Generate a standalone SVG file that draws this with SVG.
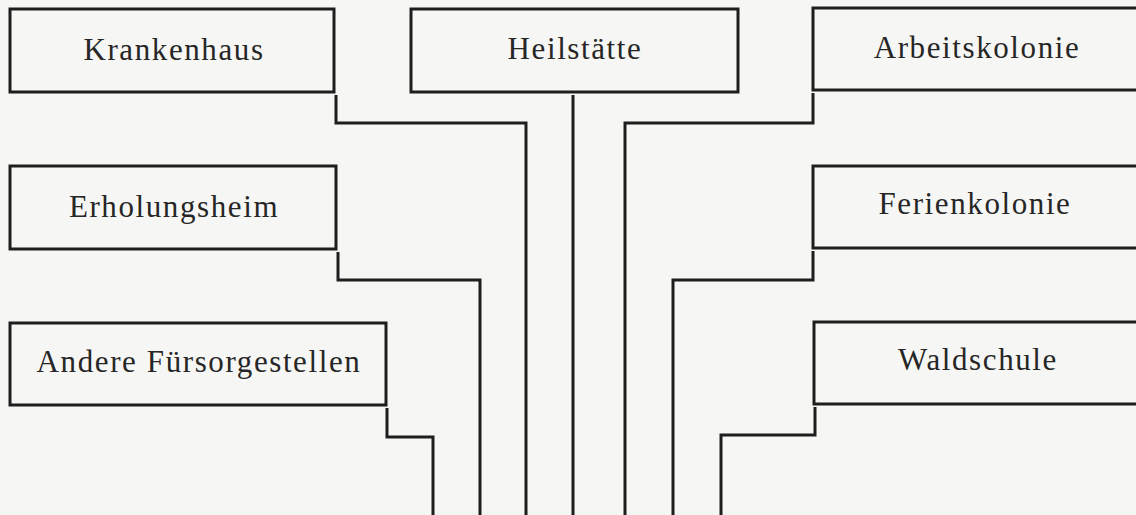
<svg xmlns="http://www.w3.org/2000/svg" width="1136" height="515" viewBox="0 0 1136 515">
<style>
.box{fill:none;stroke:#1e1e1e;stroke-width:3}
.lbl{font-family:"Liberation Serif","DejaVu Serif",serif;font-size:31px;fill:#262626;text-anchor:middle;letter-spacing:1.6px}
.con{fill:none;stroke:#1e1e1e;stroke-width:3;stroke-linejoin:miter}
</style>
<rect width="1136" height="515" fill="#f6f6f4"/>
<g id="krankenhaus"><rect class="box" x="10" y="9" width="324" height="83"/><text class="lbl" x="174" y="60">Krankenhaus</text></g>
<g id="heilstaette"><rect class="box" x="411" y="9" width="327" height="83"/><text class="lbl" x="575" y="59">Heilstätte</text></g>
<g id="arbeitskolonie"><rect class="box" x="813" y="8" width="340" height="82"/><text class="lbl" x="977" y="58">Arbeitskolonie</text></g>
<g id="erholungsheim"><rect class="box" x="10" y="166" width="326" height="83"/><text class="lbl" x="174" y="217">Erholungsheim</text></g>
<g id="ferienkolonie"><rect class="box" x="813" y="166" width="340" height="82"/><text class="lbl" x="975" y="214">Ferienkolonie</text></g>
<g id="andere"><rect class="box" x="10" y="323" width="376" height="82"/><text class="lbl" x="199" y="372">Andere Fürsorgestellen</text></g>
<g id="waldschule"><rect class="box" x="814" y="322" width="340" height="82"/><text class="lbl" x="978" y="370">Waldschule</text></g>
<g id="connectors">
<path class="con" d="M336 95 V123 H526 V515"/>
<path class="con" d="M573 95 V515"/>
<path class="con" d="M813 93 V123 H625 V515"/>
<path class="con" d="M338 252 V280 H480 V515"/>
<path class="con" d="M813 251 V280 H673 V515"/>
<path class="con" d="M387 408 V437 H433 V515"/>
<path class="con" d="M815 407 V435 H721 V515"/>
</g>
</svg>
